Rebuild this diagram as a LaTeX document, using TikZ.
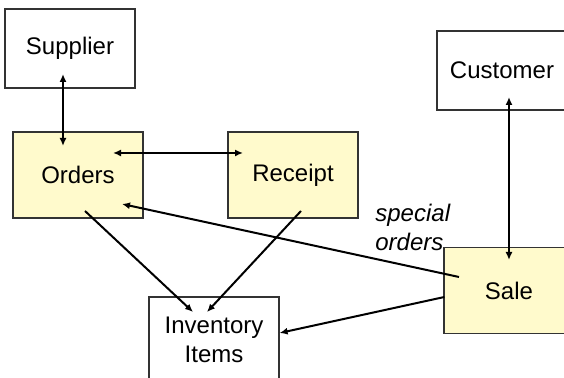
\documentclass[tikz,border=0pt]{standalone}
\usepackage{fontspec}
\setmainfont{Liberation Sans}
\usepackage{tikz}
\usetikzlibrary{calc,arrows,arrows.meta}
\definecolor{entyellow}{RGB}{255,250,204}

\begin{document}
\begin{tikzpicture}[
  x=0.5pt,
  y=-0.5pt,
  font=\fontsize{12}{14.5}\selectfont
]

  \clip (0,0) rectangle (564,378);

  \tikzstyle{entnode}=[draw=black!80,rectangle,line width=0.6pt,minimum width=65pt,minimum height=39.5pt,inner sep=1mm,align=center]
  \tikzstyle{entnodeyellow}=[entnode,fill=entyellow,minimum height=43pt]
  \tikzstyle{pointer}=[draw,line width=1pt,-{Latex[length=4pt,width=3.5pt]}]
  \tikzstyle{dblpointer}=[draw,line width=1pt,{Latex[length=4pt,width=3.5pt]}-{Latex[length=4pt,width=3.5pt]}]
  \tikzstyle{ptrlab}=[font=\itshape\fontsize{12}{14.5}\selectfont,align=left,inner sep=0pt]

  % nodes
  \node[entnode]       (supplier) at (70,48.5)  {Supplier};
  \node[entnode]       (customer) at (502,70.5) {Customer};
  \node[entnodeyellow] (orders)   at (78,175)   {Orders};
  \node[entnodeyellow] (receipt)  at (293,175)  {Receipt};
  \node[entnodeyellow] (sale)     at (509,290.5) {Sale};
  \node[entnode,minimum height=43pt] (items) at (214,340) {Inventory\\Items};

  \node[ptrlab,anchor=west] (special) at (375,227.5) {special\\orders};

  % pointers
  \draw[dblpointer] ($(supplier.center)+(-7,25.5)$) -- ($(orders.center)+(-15,-29)$);
  \draw[dblpointer] ($(orders.center)+(35,-22)$)    -- ($(receipt.center)+(-50,-22)$);
  \draw[dblpointer] ($(customer.center)+(7,26.5)$)  -- ($(sale.center)+(0,-30.5)$);
  \draw[pointer]    ($(orders.center)+(7,36)$)      -- ($(items.center)+(-21,-28)$);
  \draw[pointer]    ($(receipt.center)+(8,36)$)     -- ($(items.center)+(-7,-28)$);
  \draw[pointer]    ($(sale.center)+(-50,-13.5)$)   -- ($(orders.center)+(44,29)$);
  \draw[pointer]    ($(sale.west)+(1,6.5)$)         -- ($(items.east)+(0,-7)$);

\end{tikzpicture}
\end{document}
